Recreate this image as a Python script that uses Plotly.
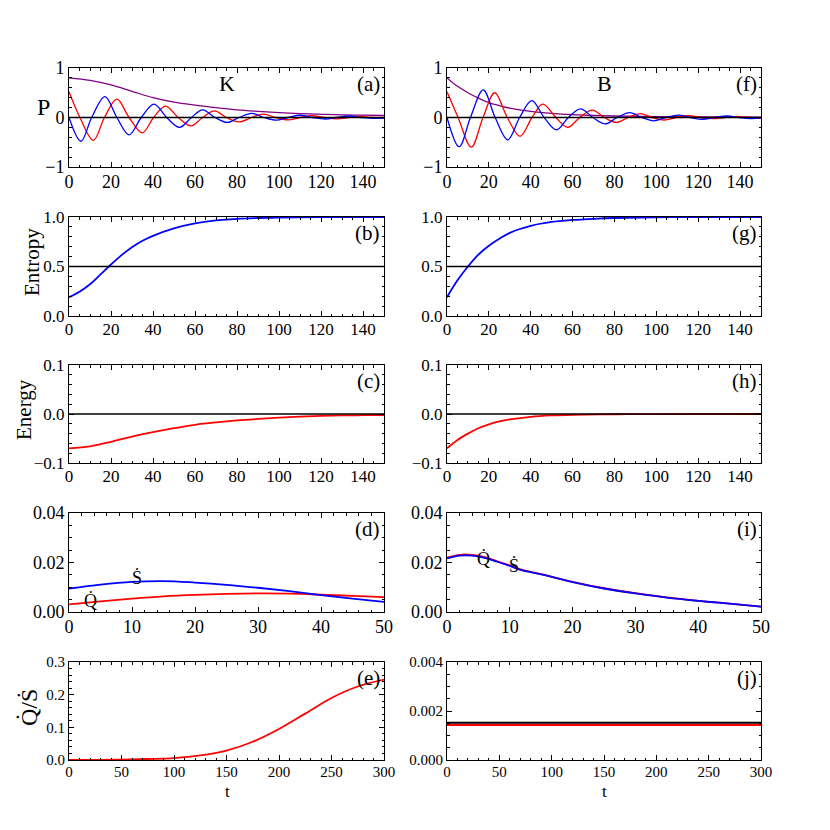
import plotly.graph_objects as go

FONT = "Liberation Serif, Times New Roman, DejaVu Serif, serif"
W = H = 830
PAGE_OFFSET = 8  # the page body margin shifts the figure by this many pixels

# ---- (a) K : populations ----
A_BLUE_T = [0, 5.7, 10.8, 17.1, 22.8, 28.6, 34.4, 40.5, 46.5, 52.6, 58.3, 63.6, 69.5, 75.4, 81,
            87, 92.7, 98.6, 104.3, 110, 116, 122, 127.5, 133, 139, 145, 150]
A_BLUE = [0, -0.48, 0, 0.42, 0, -0.35, 0, 0.27, 0, -0.20, 0, 0.155, 0, -0.10, 0,
          0.085, 0, -0.055, 0, 0.045, 0, -0.03, 0, 0.03, 0, -0.018, -0.005]
A_RED_T = [0, 5.2, 11.6, 16.9, 22.8, 28.6, 34.9, 40.3, 46, 52, 58, 63.6, 69.3, 75, 81,
           87, 92.5, 98.5, 104.4, 110, 115.6, 121.5, 127.5, 133, 138.6, 144.5, 150]
A_RED = [0.52, 0, -0.46, 0, 0.37, 0, -0.31, 0, 0.23, 0, -0.17, 0, 0.135, 0, -0.088,
         0, 0.068, 0, -0.047, 0, 0.035, 0, -0.026, 0, 0.02, 0, -0.012]
A_PURPLE_T = [0, 10, 20, 30, 40, 50, 60, 70, 80, 90, 100, 110, 120, 130, 140, 150]
A_PURPLE = [0.80, 0.75, 0.66, 0.53, 0.40, 0.31, 0.25, 0.20, 0.155, 0.125, 0.10, 0.08,
            0.065, 0.052, 0.046, 0.04]

# ---- (f) B : populations ----
F_BLUE_T = [0, 5.8, 11.2, 17.3, 23, 29, 34.7, 40.5, 46.4, 52.3, 58, 63.8, 69.7, 75.6, 81.3,
            87.3, 93, 98.8, 104.6, 110.5, 116.2, 122, 127.8, 133.8, 139.5, 145.3, 150]
F_BLUE = [0, -0.59, 0, 0.56, 0, -0.45, 0, 0.34, 0, -0.25, 0, 0.175, 0, -0.13, 0,
          0.1, 0, -0.067, 0, 0.05, 0, -0.035, 0, 0.03, 0, -0.02, -0.005]
F_RED_T = [0, 5.3, 11.6, 17.2, 22.8, 28.8, 34.9, 40.6, 45.8, 52, 57.6, 63.4, 69.4, 75.2, 80.8,
           86.6, 92.3, 98, 103.8, 109.5, 115.4, 121.2, 126.8, 132.7, 138.4, 144.3, 150]
F_RED = [0.52, 0, -0.6, 0, 0.5, 0, -0.38, 0, 0.27, 0, -0.2, 0, 0.15, 0, -0.1,
         0, 0.08, 0, -0.05, 0, 0.036, 0, -0.024, 0, 0.02, 0, -0.01]
F_PURPLE_T = [0, 5, 10, 15, 20, 25, 30, 40, 50, 60, 70, 80, 100, 120, 150]
F_PURPLE = [0.80, 0.63, 0.50, 0.39, 0.30, 0.24, 0.19, 0.125, 0.085, 0.058, 0.04, 0.03,
            0.018, 0.01, 0.005]

# ---- (b), (g) entropy ----
B_T = [0, 5, 10, 15, 20, 25, 30, 35, 40, 50, 60, 70, 80, 90, 100, 120, 150]
B_S = [0.19, 0.245, 0.32, 0.42, 0.52, 0.615, 0.695, 0.76, 0.81, 0.885, 0.935, 0.965, 0.982,
       0.99, 0.995, 0.998, 1.0]
G_T = [0, 5, 10, 15, 20, 25, 30, 40, 50, 60, 70, 80, 100, 120, 150]
G_S = [0.19, 0.36, 0.50, 0.62, 0.71, 0.78, 0.84, 0.91, 0.95, 0.97, 0.982, 0.99, 0.997,
       0.999, 1.0]
ENTROPY_REF = 0.5

# ---- (c), (h) energy ----
C_T = [0, 10, 20, 30, 40, 50, 60, 70, 80, 90, 100, 110, 120, 130, 140, 150]
C_E = [-0.070, -0.066, -0.057, -0.046, -0.037, -0.029, -0.022, -0.017, -0.013, -0.010,
       -0.0075, -0.0055, -0.004, -0.003, -0.0025, -0.002]
H_T = [0, 5, 10, 15, 20, 25, 30, 40, 50, 60, 80, 100, 150]
H_E = [-0.070, -0.053, -0.040, -0.029, -0.021, -0.015, -0.011, -0.0057, -0.003, -0.0017,
       -0.0005, -0.0002, 0]
ENERGY_REF = 0.0

# ---- (d), (i) heat and entropy rates ----
D_T = [0, 5, 10, 15, 20, 25, 30, 35, 40, 45, 50]
D_SDOT = [0.0095, 0.0111, 0.0122, 0.0125, 0.0119, 0.0110, 0.0098, 0.0084, 0.0068, 0.0054, 0.0041]
D_QDOT = [0.0031, 0.0043, 0.0054, 0.0063, 0.0069, 0.0073, 0.0075, 0.0074, 0.0070, 0.0065, 0.0060]
I_T = [0, 2, 4, 6, 8, 10, 12, 15, 20, 25, 30, 35, 40, 45, 50]
I_SDOT = [0.0217, 0.0228, 0.0228, 0.0219, 0.0203, 0.0186, 0.0168, 0.0152, 0.0121, 0.0095,
          0.0075, 0.0058, 0.0045, 0.0034, 0.0022]
I_QDOT = [0.0219, 0.0231, 0.0231, 0.0222, 0.0205, 0.0188, 0.0170, 0.0153, 0.0122, 0.0096,
          0.0076, 0.0059, 0.0045, 0.0034, 0.0022]

# ---- (e), (j) ratio ----
E_T = [0, 25, 50, 75, 100, 125, 150, 175, 200, 225, 250, 275, 300]
E_RATIO = [0, 0.0002, 0.001, 0.003, 0.006, 0.014, 0.029, 0.056, 0.095, 0.142, 0.19, 0.225, 0.246]
J_T = [0, 300]
J_BLACK = [0.00152, 0.00152]
J_RED = [0.00143, 0.00143]

# layout in pixels (as seen in the window)
COL_X = [(69, 384), (447, 761)]
ROW_Y = [(68, 167), (217, 316), (365, 463), (513, 612), (662, 760)]
ROW_TICKSIZE = [18, 17, 17, 18, 15]


def fx(p):
    return (p - PAGE_OFFSET) / W


def fy(p):
    return 1 - (p - PAGE_OFFSET) / H


def ax_id(n):
    return "" if n == 1 else str(n)


ROW_AXES = [
    # xrange, xdtick, xminor, yrange, ydtick, yminor, yformat
    ([0, 150], 20, 5, [-1, 1], 1, 0.2, "d"),
    ([0, 150], 20, 5, [0, 1], 0.5, 0.1, ".1f"),
    ([0, 150], 20, 5, [-0.1, 0.1], 0.1, 0.02, ".1f"),
    ([0, 50], 10, 2, [0, 0.04], 0.02, 0.005, ".2f"),
    ([0, 300], 50, 10, [0, 0.3], 0.1, 0.02, ".1f"),
]
J_YAXIS = ([0, 0.004], 0.002, 0.0005, ".3f")

fig = go.Figure()


def axis(domain, rng, dtick, minor, fmt, anchor, size, standoff):
    return dict(
        domain=domain, range=rng, dtick=dtick, tick0=0, tickformat=fmt,
        ticks="inside", ticklen=5, tickwidth=1, tickcolor="black",
        showline=True, linecolor="black", linewidth=1, mirror="allticks",
        showgrid=False, zeroline=False, anchor=anchor, automargin=False,
        tickfont=dict(family=FONT, size=size, color="black"),
        ticklabelstandoff=standoff,
        minor=dict(dtick=minor, tick0=0, ticks="inside", ticklen=2.5,
                   tickcolor="black", showgrid=False),
    )


layout_axes = {}
for col in range(2):
    for row in range(5):
        n = col * 5 + row + 1
        xr, xd, xm, yr, yd, ym, yf = ROW_AXES[row]
        if col == 1 and row == 4:
            yr, yd, ym, yf = J_YAXIS
        xd0, xd1 = COL_X[col]
        yd0, yd1 = ROW_Y[row]
        size = ROW_TICKSIZE[row]
        layout_axes[f"xaxis{ax_id(n)}"] = axis([fx(xd0), fx(xd1)], xr, xd, xm, None,
                                               f"y{ax_id(n)}", size, -2)
        layout_axes[f"yaxis{ax_id(n)}"] = axis([fy(yd1), fy(yd0)], yr, yd, ym, yf,
                                               f"x{ax_id(n)}", size, 0)


def line(n, x, y, color, width=1.8):
    fig.add_trace(go.Scatter(
        x=x, y=y, mode="lines", xaxis=f"x{ax_id(n)}", yaxis=f"y{ax_id(n)}",
        line=dict(color=color, width=width, shape="spline", smoothing=1.0),
        showlegend=False, hoverinfo="skip",
    ))


def ref_line(n, value):
    fig.add_shape(type="line", xref=f"x{ax_id(n)} domain", yref=f"y{ax_id(n)}", x0=0, x1=1,
                  y0=value, y1=value, line=dict(color="black", width=1.6))


# (a)
ref_line(1, ENERGY_REF)
line(1, A_PURPLE_T, A_PURPLE, "#800080", 1.3)
line(1, A_RED_T, A_RED, "#ff0000", 1.3)
line(1, A_BLUE_T, A_BLUE, "#0000ff", 1.3)
# (f)
ref_line(6, ENERGY_REF)
line(6, F_PURPLE_T, F_PURPLE, "#800080", 1.3)
line(6, F_RED_T, F_RED, "#ff0000", 1.3)
line(6, F_BLUE_T, F_BLUE, "#0000ff", 1.3)
# (b), (g)
ref_line(2, ENTROPY_REF)
ref_line(7, ENTROPY_REF)
line(2, B_T, B_S, "#0000ff")
line(7, G_T, G_S, "#0000ff")
# (c), (h)
ref_line(3, ENERGY_REF)
ref_line(8, ENERGY_REF)
line(3, C_T, C_E, "#ff0000")
line(8, H_T, H_E, "#ff0000")
# (d), (i)
line(4, D_T, D_QDOT, "#ff0000")
line(4, D_T, D_SDOT, "#0000ff")
line(9, I_T, I_QDOT, "#ff0000")
line(9, I_T, I_SDOT, "#0000ff")
# (e), (j)
line(5, E_T, E_RATIO, "#ff0000")
line(10, J_T, J_BLACK, "black", 2)
line(10, J_T, J_RED, "#ff0000", 2)

annotations = []


def text(x, y, s, size=20, xanchor="center", angle=0):
    annotations.append(dict(
        x=fx(x), y=fy(y), xref="paper", yref="paper", text=s, showarrow=False,
        xanchor=xanchor, yanchor="middle", textangle=angle,
        font=dict(family=FONT, size=size, color="black"),
    ))


for col, labels in enumerate(["abcde", "fghij"]):
    right = COL_X[col][1] - 2
    for row, ch in enumerate(labels):
        text(right, ROW_Y[row][0] + 16, f"({ch})", 21, "right")

text(227, 83, "K", 22)
text(604, 83, "B", 22)
text(43, 107, "P", 24)
text(32, 262, "Entropy", 21, angle=-90)
text(24, 410, "Energy", 21, angle=-90)
text(29, 708, "Q\u0307/\u1e60", 24, angle=-90)
text(227, 791, "t", 17)
text(604, 791, "t", 17)

# rate labels inside (d) and (i)
text(137, 578, "\u1e60", 18)
text(90, 600, "Q\u0307", 18)
text(483, 558, "Q\u0307", 18)
text(514, 566, "\u1e60", 18)

fig.update_layout(
    width=W, height=H, margin=dict(l=0, r=0, t=0, b=0, pad=0, autoexpand=False),
    paper_bgcolor="white", plot_bgcolor="white",
    font=dict(family=FONT, color="black"),
    annotations=annotations, showlegend=False,
    **layout_axes,
)

fig.write_html("out.html")
